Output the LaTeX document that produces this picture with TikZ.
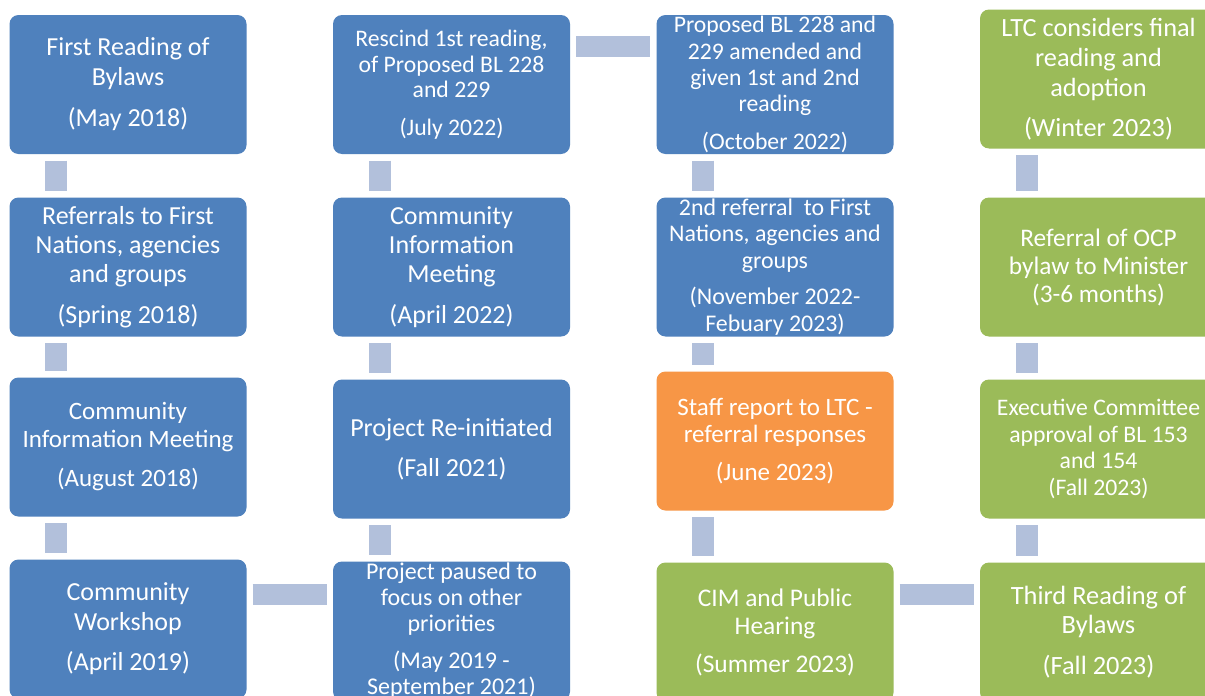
\documentclass[tikz,border=0pt]{standalone}
\usepackage{fontspec}
\setmainfont{Carlito}
\usetikzlibrary{calc}
\definecolor{boxblue}{HTML}{4F81BD}
\definecolor{boxgreen}{HTML}{9BBB59}
\definecolor{boxorange}{HTML}{F79646}
\definecolor{linkcol}{HTML}{B2C0DB}
\begin{document}
\begin{tikzpicture}[x=1pt,y=-1pt,
  box/.style={rectangle, rounded corners=9pt, minimum width=237pt,
    minimum height=139pt, inner sep=0pt, align=center, text=white},
  bluebox/.style={box, fill=boxblue},
  greenbox/.style={box, fill=boxgreen},
  orangebox/.style={box, fill=boxorange},
  fs/.style 2 args={font=\fontsize{#1}{#2}\selectfont},
  link/.style={draw=linkcol, line width=22pt, shorten <=6.5pt, shorten >=6.5pt},
  hlink/.style={draw=linkcol, line width=21pt, shorten <=6pt, shorten >=6pt}]
\clip (0,0) rectangle (1205,696);
\fill[white] (0,0) rectangle (1205,696);

% column 1
\node[bluebox, fs={26}{30}] (c1r1) at (128,84.5) {First Reading of\\Bylaws\\[11pt](May 2018)};
\node[bluebox, fs={26}{29}] (c1r2) at (128,267) {Referrals to First\\Nations, agencies\\and groups\\[12pt](Spring 2018)};
\node[bluebox, fs={25}{28}] (c1r3) at (128,447) {Community\\Information Meeting\\[11pt](August 2018)};
\node[bluebox, fs={26}{30}] (c1r4) at (128,629) {Community\\Workshop\\[10pt](April 2019)};

% column 2
\node[bluebox, fs={23.7}{25.5}] (c2r1) at (451.5,84.5) {Rescind 1st reading,\\of Proposed BL 228\\and 229\\[12pt](July 2022)};
\node[bluebox, fs={26}{29}] (c2r2) at (451.5,267) {Community\\Information\\Meeting\\[12pt](April 2022)};
\node[bluebox, fs={26}{29}] (c2r3) at (451.5,449) {Project Re-initiated\\[11pt](Fall 2021)};
\node[bluebox, fs={24}{26}] (c2r4) at (451.5,631) {Project paused to\\focus on other\\priorities\\[11pt](May 2019 -\\September 2021)};

% column 3
\node[bluebox, fs={23.7}{26.3}] (c3r1) at (775,84.5) {Proposed BL 228 and\\229 amended and\\given 1st and 2nd\\reading\\[11pt](October 2022)};
\node[bluebox, fs={23.9}{26.5}] (c3r2) at (775,267) {2nd referral\ \ to First\\Nations, agencies and\\groups\\[10pt](November 2022-\\Febuary 2023)};
\node[orangebox, fs={25}{27}] (c3r3) at (775,441) {Staff report to LTC -\\referral responses\\[11pt](June 2023)};
\node[greenbox, fs={25.4}{28}] (c3r4) at (775,632) {CIM and Public\\Hearing\\[10pt](Summer 2023)};

% column 4
\node[greenbox, fs={26.3}{30}] (c4r1) at (1098.5,79) {LTC considers final\\reading and\\adoption\\[10pt](Winter 2023)};
\node[greenbox, fs={25.3}{28}] (c4r2) at (1098.5,267) {Referral of OCP\\bylaw to Minister\\(3-6 months)};
\node[greenbox, fs={23.7}{26.5}] (c4r3) at (1098.5,449) {Executive Committee\\approval of BL 153\\and 154\\(Fall 2023)};
\node[greenbox, fs={26.4}{29}] (c4r4) at (1098.5,632) {Third Reading of\\Bylaws\\[12pt](Fall 2023)};

% vertical links between stacked boxes, set 46.5pt in from each column's left edge
\foreach \a/\b in {c1r1/c1r2, c1r2/c1r3, c1r3/c1r4,
                   c2r1/c2r2, c2r2/c2r3, c2r3/c2r4,
                   c3r1/c3r2, c3r2/c3r3, c3r3/c3r4,
                   c4r1/c4r2, c4r2/c4r3, c4r3/c4r4}{
  \coordinate (va) at ($(\a.center)+(-72,0)$);
  \coordinate (vb) at ($(\b.center)+(-72,0)$);
  \path[link] (va |- \a.south) -- (vb |- \b.north);
}

% horizontal links between columns
\coordinate (h1) at ($(c1r4.north east)+(0,35)$);
\path[hlink] (h1) -- (h1 -| c2r4.west);
\coordinate (h2) at ($(c2r1.north east)+(0,32)$);
\path[hlink] (h2) -- (h2 -| c3r1.west);
\coordinate (h3) at ($(c3r4.north east)+(0,32)$);
\path[hlink] (h3) -- (h3 -| c4r4.west);
\end{tikzpicture}
\end{document}
